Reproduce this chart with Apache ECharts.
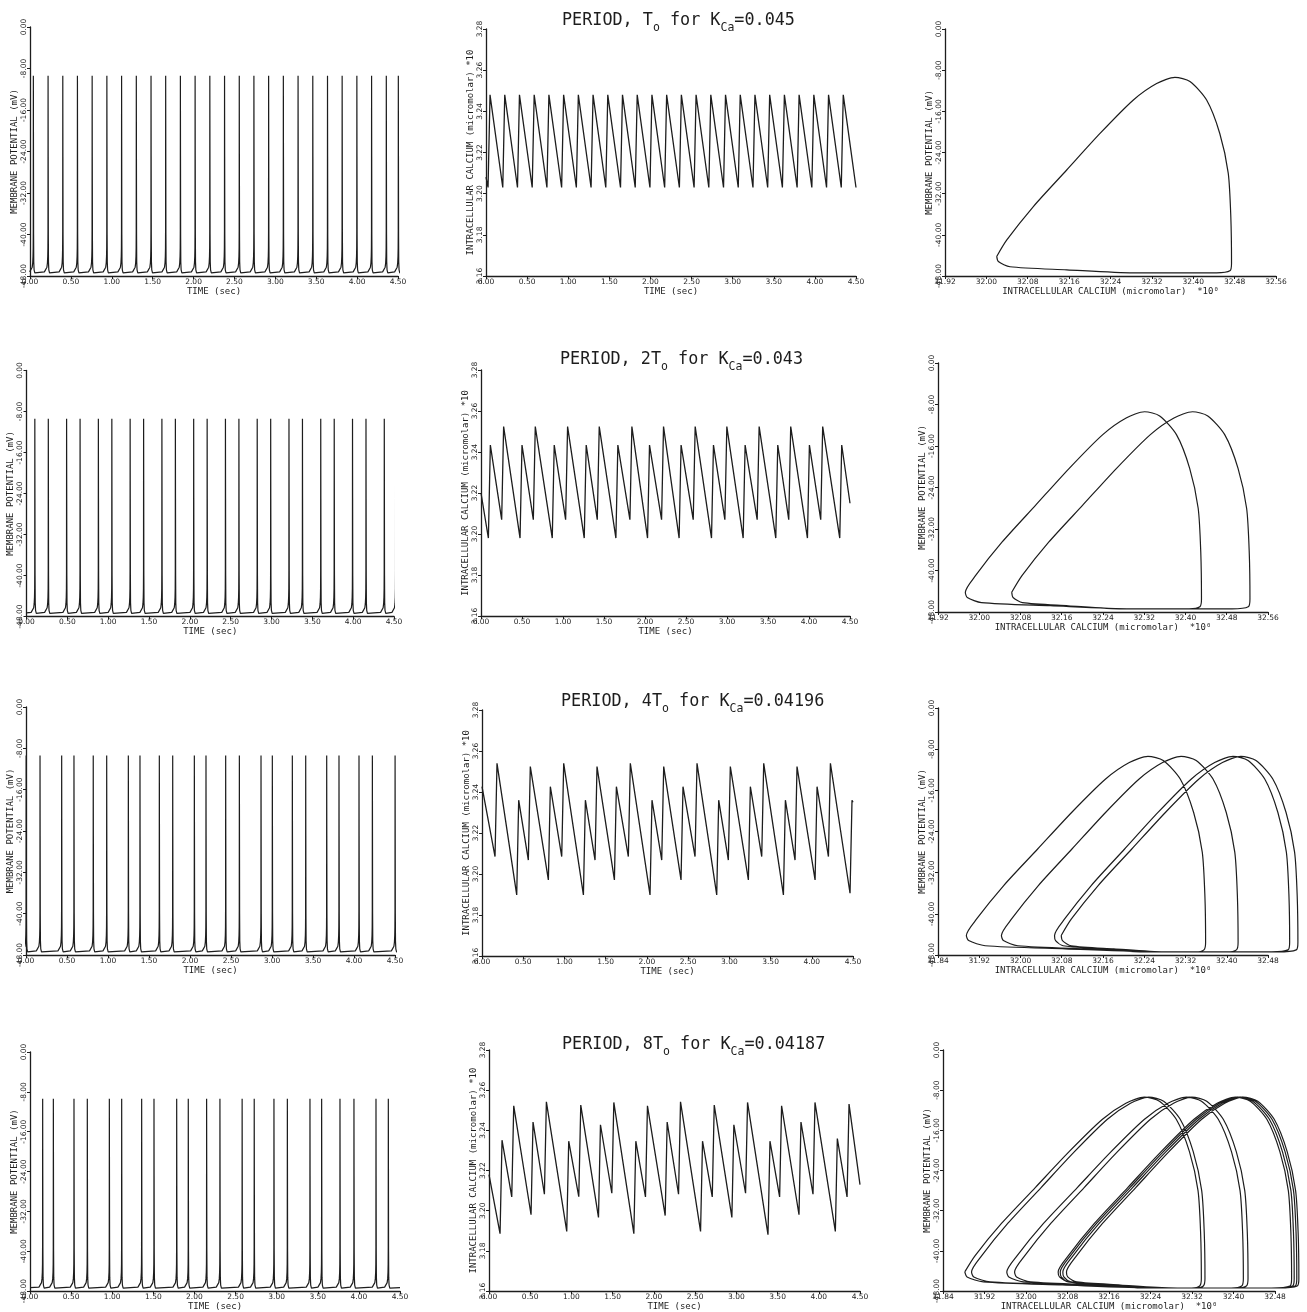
<!DOCTYPE html>
<html><head><meta charset="utf-8">
<script src="https://cdn.jsdelivr.net/npm/echarts@6/dist/echarts.min.js"></script>
<style>html,body{margin:0;padding:0;background:#fff}#c{width:1307px;height:1312px}</style>
</head><body><div id="c"></div>
<script>
// ================= DATA =================
// titles
const periodLabels = ['', '2', '4', '8'];
const kcaLabels = ['0.045', '0.043', '0.04196', '0.04187'];

// membrane potential: spike times (s) per row (last one may be a partial spike at the edge)
const vSpikesR1 = [0.041,0.221,0.401,0.580,0.760,0.940,1.120,1.300,1.480,1.659,1.839,2.019,2.199,2.379,2.559,2.738,2.918,3.098,3.278,3.458,3.638,3.817,3.997,4.177,4.357,4.504];
const vSpikesR2 = [0.102,0.267,0.491,0.656,0.880,1.045,1.269,1.434,1.658,1.823,2.047,2.212,2.436,2.601,2.825,2.990,3.214,3.379,3.603,3.768,3.992,4.157,4.381,4.520];
const vSpikesR3 = [0.002,0.171,0.435,0.585,0.820,0.984,1.248,1.390,1.626,1.789,2.053,2.195,2.435,2.602,2.866,3.004,3.248,3.411,3.667,3.817,4.061,4.224,4.501];
const vSpikesR4 = [0.154,0.284,0.535,0.697,0.965,1.115,1.358,1.508,1.784,1.925,2.148,2.310,2.580,2.727,2.967,3.130,3.405,3.547,3.770,3.940,4.208,4.358];
// spike waveform read from one spike: offset (s) and potential (mV)
const spikeDt = [-0.045,-0.025,-0.014,-0.008,-0.004,-0.002,-0.001,0,0.0015,0.003,0.005,0.009,0.018,0.040];
const spikeV  = [-47.2,-46.9,-46.3,-45.5,-44.2,-42.5,-39.0,-9.4,-25.0,-40.0,-45.3,-46.8,-47.4,-47.4];
const vBaseline = -47.3;

// intracellular calcium (x10 micromolar): peak times, peak values, trough value before each peak
const caRise = 0.024; // trough-to-peak time (s)
const caPeakTR1 = [0.049,0.228,0.407,0.586,0.765,0.944,1.123,1.302,1.481,1.660,1.839,2.018,2.197,2.376,2.555,2.734,2.913,3.092,3.271,3.450,3.629,3.808,3.987,4.166,4.345];
const caPeakVR1 = [3.248,3.248,3.248,3.248,3.248,3.248,3.248,3.248,3.248,3.248,3.248,3.248,3.248,3.248,3.248,3.248,3.248,3.248,3.248,3.248,3.248,3.248,3.248,3.248,3.248];
const caTroughVR1 = [3.203,3.203,3.203,3.203,3.203,3.203,3.203,3.203,3.203,3.203,3.203,3.203,3.203,3.203,3.203,3.203,3.203,3.203,3.203,3.203,3.203,3.203,3.203,3.203,3.203];
const caEndsR1 = [3.208, 3.203];
const caPeakTR2 = [0.114,0.276,0.500,0.662,0.893,1.056,1.283,1.442,1.669,1.840,2.055,2.226,2.440,2.612,2.835,2.998,3.221,3.392,3.619,3.777,4.005,4.167,4.399];
const caPeakVR2 = [3.2434,3.2524,3.2434,3.2524,3.2434,3.2524,3.2434,3.2524,3.2434,3.2524,3.2434,3.2524,3.2434,3.2524,3.2434,3.2524,3.2434,3.2524,3.2434,3.2524,3.2434,3.2524,3.2434];
const caTroughVR2 = [3.198,3.207,3.198,3.207,3.198,3.207,3.198,3.207,3.198,3.207,3.198,3.207,3.198,3.207,3.198,3.207,3.198,3.207,3.198,3.207,3.198,3.207,3.198];
const caEndsR2 = [3.220, 3.215];
const caPeakTR3 = [0.182,0.445,0.586,0.829,0.991,1.254,1.395,1.630,1.799,2.062,2.204,2.438,2.608,2.871,3.012,3.255,3.417,3.680,3.821,4.064,4.226,4.488];
const caPeakVR3 = [3.254,3.236,3.2524,3.2426,3.254,3.236,3.2524,3.2426,3.254,3.236,3.2524,3.2426,3.254,3.236,3.2524,3.2426,3.254,3.236,3.2524,3.2426,3.254,3.236];
const caTroughVR3 = [3.2085,3.1898,3.2068,3.1971,3.2085,3.1898,3.2068,3.1971,3.2085,3.1898,3.2068,3.1971,3.2085,3.1898,3.2068,3.1971,3.2085,3.1898,3.2068,3.1971,3.2085,3.1906];
const caEndsR3 = [3.2426, 3.235];
const caPeakTR4 = [0.158,0.300,0.534,0.696,0.967,1.113,1.352,1.514,1.781,1.922,2.161,2.323,2.590,2.732,2.970,3.136,3.408,3.549,3.784,3.954,4.225,4.367];
const caPeakVR4 = [3.2351,3.2522,3.2441,3.2542,3.2346,3.2526,3.2428,3.2539,3.2346,3.2522,3.2441,3.2542,3.2346,3.2526,3.2428,3.2539,3.2346,3.2522,3.2441,3.2539,3.2359,3.2531];
const caTroughVR4 = [3.1886,3.2069,3.1980,3.2082,3.1897,3.2070,3.1967,3.2087,3.1886,3.2069,3.1976,3.2082,3.1897,3.2069,3.1967,3.2087,3.1881,3.2069,3.1980,3.2082,3.1897,3.2069];
const caEndsR4 = [3.218, 3.213];

// phase plane loops: calcium at the start (left) and end (right) of each spike, in time order
const phaseLeftR1 = [32.020];
const phaseRightR1 = [32.474];
const phaseLeftR2 = [32.063, 31.973];
const phaseRightR2 = [32.525, 32.431];
const phaseLeftR3 = [32.079, 31.895, 32.066, 31.963];
const phaseRightR3 = [32.538, 32.359, 32.522, 32.422];
const phaseLeftR4 = [31.882, 32.066, 31.978, 32.078, 31.895, 32.071, 31.963, 32.062];
const phaseRightR4 = [32.338, 32.517, 32.428, 32.526, 32.345, 32.522, 32.419, 32.512];
// loop shape read from the top-right loop: fraction across the loop and potential (mV)
const loopU = [0,0.043,0.156,0.298,0.440,0.582,0.681,0.759,0.823,0.894,0.950,0.986,0.997,1.000,0.993];
const loopV = [-44.2,-41.0,-34.5,-27.4,-20.3,-13.8,-10.6,-9.4,-10.2,-13.8,-20.3,-28.0,-36.5,-45.5,-47.0];
// return path along the bottom: fraction towards next loop's left corner, potential (mV)
const recW = [0.057,0.414,0.700,0.943,0.993];
const recV = [-47.4,-47.4,-46.8,-46.2,-45.2];

// axis tick settings
const timeAxisRange = [0, 4.5, 0.5];
const vAxisRange = [-48, 0, 8];
const caAxisRange = [3.16, 3.28, 0.02];
const phaseAxisRanges = [[31.92, 32.56, 0.08], [31.92, 32.56, 0.08], [31.84, 32.48, 0.08], [31.84, 32.48, 0.08]];
// how far the phase traces run past the drawn end of the calcium axis
const phaseOverrun = [0, 0, 0.065, 0.05];

// ================= BUILD =================
const vSpikes = [vSpikesR1, vSpikesR2, vSpikesR3, vSpikesR4];
const caRows = [
  [caPeakTR1, caPeakVR1, caTroughVR1, caEndsR1],
  [caPeakTR2, caPeakVR2, caTroughVR2, caEndsR2],
  [caPeakTR3, caPeakVR3, caTroughVR3, caEndsR3],
  [caPeakTR4, caPeakVR4, caTroughVR4, caEndsR4]
];
const phaseRows = [[phaseLeftR1, phaseRightR1], [phaseLeftR2, phaseRightR2], [phaseLeftR3, phaseRightR3], [phaseLeftR4, phaseRightR4]];

function buildV(times) {
  const pts = [];
  times.forEach(t => spikeDt.forEach((d, k) => pts.push([t + d, spikeV[k]])));
  if (pts[0][0] > 0) pts.unshift([0, vBaseline]);
  if (pts[pts.length - 1][0] < 4.5) pts.push([4.5, vBaseline]);
  return pts;
}
function buildCa(row) {
  const [pt, pv, tv, ends] = row;
  const pts = [[0, ends[0]]];
  pt.forEach((t, i) => { pts.push([t - caRise, tv[i]]); pts.push([t, pv[i]]); });
  pts.push([4.5, ends[1]]);
  return pts;
}
function buildPhase(row) {
  const [L, R] = row;
  const n = L.length, pts = [];
  for (let i = 0; i < n; i++) {
    const l = L[i], r = R[i];
    loopU.forEach((u, k) => pts.push([l + u * (r - l), loopV[k]]));
    const x0 = l + loopU[loopU.length - 1] * (r - l);
    const nl = L[(i + 1) % n];
    recW.forEach((w, k) => pts.push([x0 + w * (nl - x0), recV[k]]));
  }
  pts.push([L[0], loopV[0]]);
  return pts;
}

const INK = '#1d1d1d';
const MONO = "'DejaVu Sans Mono', monospace";
const SANS = "'DejaVu Sans', sans-serif";
const gridBoxes = [
  [30,27,368,249],[486,29,370,247],[945,29,331,247],
  [26.5,370.5,367.5,246],[481,370,369,246],[938,363,330,249],
  [26,707,369,248],[482,710,371,246],[938,708,330,247],
  [30,1052,370,241],[489,1050,371,245],[943,1050,332,241]
];
const titlePos = [[557,3],[555,342],[556,684],[557,1027]];

const axisCommon = {
  type: 'value',
  axisLine: { show: true, onZero: false, lineStyle: { color: INK, width: 1.3 } },
  axisTick: { show: true, length: 3, lineStyle: { color: INK, width: 1 } },
  splitLine: { show: false },
  nameLocation: 'middle',
  nameTextStyle: { fontFamily: MONO, fontSize: 9, color: INK }
};
function xAxisDef(gi, range, name) {
  return Object.assign({}, axisCommon, {
    gridIndex: gi, min: range[0], max: range[1], interval: range[2],
    name: name, nameGap: 9,
    axisLabel: { fontFamily: SANS, fontSize: 7.5, color: INK, margin: 2, formatter: v => v.toFixed(2) }
  });
}
function yAxisDef(gi, range, name, gap) {
  return Object.assign({}, axisCommon, {
    gridIndex: gi, min: range[0], max: range[1], interval: range[2],
    name: name, nameGap: gap, nameRotate: 90,
    axisLabel: { fontFamily: SANS, fontSize: 7.5, color: INK, margin: 2, rotate: 90, formatter: v => v.toFixed(2) }
  });
}

const grid = [], xAxis = [], yAxis = [], series = [], title = [];
for (let r = 0; r < 4; r++) {
  for (let c = 0; c < 3; c++) {
    const gi = r * 3 + c;
    const b = gridBoxes[gi];
    grid.push({ left: b[0], top: b[1], width: b[2], height: b[3], containLabel: false });
    const s = { type: 'line', xAxisIndex: gi, yAxisIndex: gi, showSymbol: false, symbol: 'none', silent: true, clip: true,
                lineStyle: { color: INK, width: 1.2 } };
    if (c === 0) {
      xAxis.push(xAxisDef(gi, timeAxisRange, 'TIME (sec)'));
      yAxis.push(yAxisDef(gi, vAxisRange, 'MEMBRANE POTENTIAL (mV)', 9));
      s.data = buildV(vSpikes[r]);
    } else if (c === 1) {
      xAxis.push(xAxisDef(gi, timeAxisRange, 'TIME (sec)'));
      yAxis.push(yAxisDef(gi, caAxisRange, 'INTRACELLULAR CALCIUM (micromolar) *10', 10));
      s.data = buildCa(caRows[r]);
      s.lineStyle.width = 1.3;
    } else {
      xAxis.push(xAxisDef(gi, phaseAxisRanges[r], 'INTRACELLULAR CALCIUM (micromolar)  *10⁰'));
      yAxis.push(yAxisDef(gi, vAxisRange, 'MEMBRANE POTENTIAL (mV)', 9));
      s.data = buildPhase(phaseRows[r]);
      s.smooth = 0.25;
      s.lineStyle.width = 1.2;
      s.phaseRow = r;
    }
    series.push(s);
  }
  title.push({
    left: titlePos[r][0], top: titlePos[r][1],
    text: '{a|PERIOD, ' + periodLabels[r] + 'T}{s|o}{a| for K}{s|Ca}{a|=' + kcaLabels[r] + '}',
    textStyle: { fontWeight: 'normal', rich: {
      a: { fontFamily: MONO, fontWeight: 'normal', fontSize: 16.8, color: INK, lineHeight: 26, verticalAlign: 'middle' },
      s: { fontFamily: MONO, fontWeight: 'normal', fontSize: 11.5, color: INK, lineHeight: 26, verticalAlign: 'bottom' }
    } }
  });
}

// phase-plane traces run past the end of the drawn calcium axis, as in the original plotter output:
// draw them on a hidden grid that extends a little further right with the same scale as the visible one.
series.forEach(s => {
  if (s.phaseRow === undefined) return;
  const r = s.phaseRow, gi = r * 3 + 2, b = gridBoxes[gi], rg = phaseAxisRanges[r];
  const extra = phaseOverrun[r];
  const hi = grid.length;
  grid.push({ left: b[0], top: b[1], width: b[2] * (rg[1] - rg[0] + extra) / (rg[1] - rg[0]), height: b[3], containLabel: false });
  xAxis.push({ type: 'value', gridIndex: hi, min: rg[0], max: rg[1] + extra, show: false, splitLine: { show: false } });
  yAxis.push({ type: 'value', gridIndex: hi, min: vAxisRange[0], max: vAxisRange[1], show: false, splitLine: { show: false } });
  s.xAxisIndex = hi; s.yAxisIndex = hi;
  s.clip = false;
  delete s.phaseRow;
});

const chart = echarts.init(document.getElementById('c'), null, { renderer: 'canvas' });
chart.setOption({ backgroundColor: '#ffffff', animation: false, title, grid, xAxis, yAxis, series });
</script>
</body></html>
